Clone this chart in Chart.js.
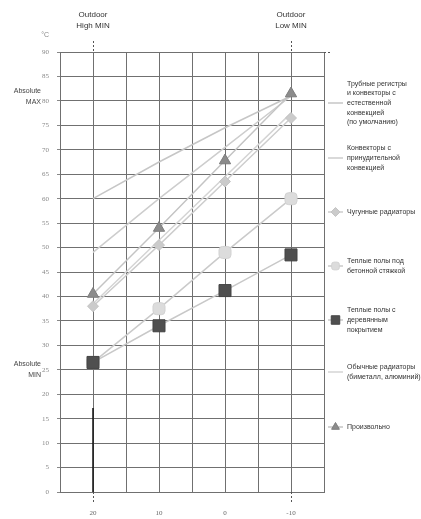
<!DOCTYPE html>
<html>
<head>
<meta charset="utf-8">
<script src="https://cdn.jsdelivr.net/npm/chart.js@4/dist/chart.umd.min.js"></script>
<style>
  html, body { margin: 0; padding: 0; background: #fff; }
  #wrap { position: relative; width: 421px; height: 519px; }
</style>
</head>
<body>
<div id="wrap"><canvas id="heatChart" width="421" height="519"></canvas></div>
<script>
// outdoor temperature (x) and supply temperature (y)
const outdoorTemps = [20, 10, 0, -10];

const naturalConvectors = [60, 67.5, 74.5, 81];
const forcedConvectors = [49, 60, 70.5, 81];
const castIronRadiators = [38, 50.5, 63.5, 76.5];
const floorUnderScreed = [26.5, 37.5, 49, 60];
const floorWooden = [26.5, 34, 41.2, 48.5];
const regularRadiators = [38.5, 51.5, 64.5, 77.5];
const arbitraryCurve = [40.5, 54, 67.8, 81.5];

const legendLabels = [
  ["Трубные регистры", "и конвекторы с", "естественной", "конвекцией", "(по умолчанию)"],
  ["Конвекторы с", "принудительной", "конвекцией"],
  ["Чугунные радиаторы"],
  ["Теплые полы под", "бетонной стяжкой"],
  ["Теплые полы с", "деревянным", "покрытием"],
  ["Обычные радиаторы", "(биметалл, алюминий)"],
  ["Произвольно"]
];

const outdoorLabels = [["Outdoor", "High MIN"], ["Outdoor", "Low MIN"]];
const outdoorMarks = [20, -10];
const yTicksMax = 90;

function toPoints(values){
  return values.map((v, i) => ({x: outdoorTemps[i], y: v}))
}

// legend symbol y positions (px) next to the plot
const legendRows = [103, 158, 212, 266, 320, 372, 427];

const datasets = [
  {label: legendLabels[0].join(' '), data: toPoints(naturalConvectors), borderColor: '#c6c6c6', pointRadius: 0, order: 7},
  {label: legendLabels[1].join(' '), data: toPoints(forcedConvectors), borderColor: '#cdcdcd', pointRadius: 0, order: 6},
  {label: legendLabels[2].join(' '), data: toPoints(castIronRadiators), borderColor: '#cdcdcd', pointStyle: 'rectRot', pointRadius: 5.5, backgroundColor: '#cbcbcb', pointBorderColor: '#c4c4c4', order: 3},
  {label: legendLabels[3].join(' '), data: toPoints(floorUnderScreed), borderColor: '#cacaca', pointStyle: 'rectRounded', pointRadius: 7, backgroundColor: '#dcdcdc', pointBorderColor: '#d2d2d2', order: 4},
  {label: legendLabels[4].join(' '), data: toPoints(floorWooden), borderColor: '#c8c8c8', pointStyle: 'rect', pointRadius: 8.5, backgroundColor: '#4f4f4f', pointBorderColor: '#444', order: 1},
  {label: legendLabels[5].join(' '), data: toPoints(regularRadiators), borderColor: '#d4d4d4', pointRadius: 0, order: 5},
  {label: legendLabels[6].join(' '), data: toPoints(arbitraryCurve), borderColor: '#c4c4c4', pointStyle: 'triangle', pointRadius: 6.5, backgroundColor: '#8c8c8c', pointBorderColor: '#7c7c7c', order: 2}
];
datasets.forEach(ds => {
  ds.borderWidth = 1.5
  ds.pointBorderWidth = 1
  ds.fill = false
  ds.tension = 0
})

const extrasPlugin = {
  id: 'extras',
  afterDraw(chart){
    const ctx = chart.ctx
    const area = chart.chartArea
    const xs = chart.scales.x
    const ys = chart.scales.y
    ctx.save()

    // black bar at the high point, bottom of the chart
    ctx.strokeStyle = '#111'
    ctx.lineWidth = 1.5
    ctx.beginPath()
    ctx.moveTo(xs.getPixelForValue(20), ys.getPixelForValue(17.2))
    ctx.lineTo(xs.getPixelForValue(20), ys.getPixelForValue(0))
    ctx.stroke()

    // dashed guides for the outdoor design temperatures
    ctx.strokeStyle = '#555'
    ctx.lineWidth = 1
    ctx.setLineDash([2, 2])
    outdoorMarks.forEach(v => {
      const px = Math.round(xs.getPixelForValue(v)) + 0.5
      ctx.beginPath()
      ctx.moveTo(px, area.top - 11)
      ctx.lineTo(px, area.top)
      ctx.moveTo(px, area.bottom)
      ctx.lineTo(px, area.bottom + 12)
      ctx.stroke()
    })
    ctx.beginPath()
    ctx.moveTo(area.right, area.top + 0.5)
    ctx.lineTo(area.right + 8, area.top + 0.5)
    ctx.stroke()
    ctx.setLineDash([])

    // headings above the guides
    ctx.fillStyle = '#333'
    ctx.font = '8px "Liberation Sans", Arial, sans-serif'
    ctx.textAlign = 'center'
    ctx.textBaseline = 'middle'
    outdoorMarks.forEach((v, i) => {
      const px = xs.getPixelForValue(v)
      ctx.fillText(outdoorLabels[i][0], px, 15)
      ctx.fillText(outdoorLabels[i][1], px, 26)
    })

    // unit and absolute limits on the left
    ctx.font = '7px "Liberation Sans", Arial, sans-serif'
    ctx.textAlign = 'right'
    ctx.fillStyle = '#888'
    ctx.fillText('°C', 49, 35)
    ctx.fillStyle = '#444'
    ctx.fillText('Absolute', 41, 91)
    ctx.fillText('MAX', 41, 102)
    ctx.fillText('Absolute', 41, 364)
    ctx.fillText('MIN', 41, 375)

    // legend on the right
    ctx.textAlign = 'left'
    ctx.font = '7px "Liberation Sans", Arial, sans-serif'
    ctx.fillStyle = '#333'
    const lh = 9.6
    chart.data.datasets.forEach((ds, i) => {
      const y = legendRows[i]
      ctx.strokeStyle = ds.borderColor
      ctx.lineWidth = 1.5
      ctx.beginPath()
      ctx.moveTo(328, y)
      ctx.lineTo(343, y)
      ctx.stroke()
      if (ds.pointRadius > 0) {
        ctx.fillStyle = ds.backgroundColor
        ctx.strokeStyle = ds.pointBorderColor
        ctx.lineWidth = 1
        const r = ds.pointStyle === 'rect' ? 6 : ds.pointStyle === 'triangle' ? 4.5 : 4.5
        Chart.helpers.drawPoint(ctx, {pointStyle: ds.pointStyle, radius: r, rotation: 0, borderWidth: 1}, 335.5, y)
      }
      ctx.fillStyle = '#333'
      const lines = legendLabels[i]
      const top = y - (lines.length - 1) * lh / 2
      lines.forEach((t, k) => ctx.fillText(t, 347, top + k * lh))
    })
    ctx.restore()
  }
}

const config = {
  type: 'line',
  data: {datasets: datasets},
  options: {
    responsive: false,
    animation: false,
    layout: {padding: {top: 52, right: 97, left: 0, bottom: 0}},
    plugins: {legend: {display: false}, tooltip: {enabled: false}},
    scales: {
      x: {
        type: 'linear',
        reverse: true,
        min: -15,
        max: 25,
        ticks: {
          stepSize: 5,
          padding: 17,
          color: '#666',
          font: {size: 7, family: '"Liberation Serif", "DejaVu Serif", serif'},
          callback: v => (v % 10 === 0 ? String(v === 0 ? 0 : v) : '')
        },
        grid: {color: '#707070', lineWidth: 1, drawTicks: false},
        border: {color: '#707070'},
        afterFit: scale => { scale.height = 27 }
      },
      y: {
        min: 0,
        max: yTicksMax,
        ticks: {
          stepSize: 5,
          padding: 8,
          color: '#888',
          font: {size: 7, family: '"Liberation Serif", "DejaVu Serif", serif'}
        },
        grid: {color: '#707070', lineWidth: 1, tickLength: 3, tickColor: '#888'},
        border: {color: '#707070'},
        afterFit: scale => { scale.width = 60 }
      }
    }
  },
  plugins: [extrasPlugin]
}

const heatChart = new Chart(document.getElementById('heatChart'), config)
</script>
</body>
</html>
